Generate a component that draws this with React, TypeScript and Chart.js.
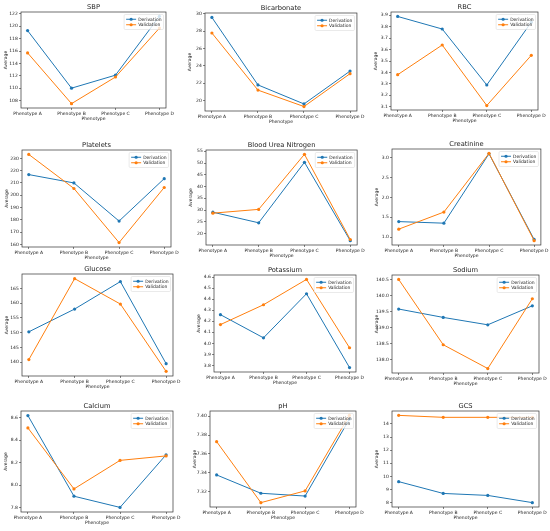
import React, { useEffect, useRef } from "react";
import { Chart, registerables } from "chart.js";

Chart.register(...registerables);

// ---------- data ----------
const phenotypes = ["Phenotype A", "Phenotype B", "Phenotype C", "Phenotype D"];
const seriesNames = ["Derivation", "Validation"];
const panelTitles = [
  "SBP", "Bicarbonate", "RBC",
  "Platelets", "Blood Urea Nitrogen", "Creatinine",
  "Glucose", "Potassium", "Sodium",
  "Calcium", "pH", "GCS",
];

const sbpDerivation = [119.3, 110.0, 112.1, 121.6];
const sbpValidation = [115.7, 107.5, 111.8, 119.7];
const bicarbonateDerivation = [29.6, 21.8, 19.6, 23.4];
const bicarbonateValidation = [27.8, 21.2, 19.3, 23.1];
const rbcDerivation = [3.89, 3.78, 3.29, 3.84];
const rbcValidation = [3.38, 3.64, 3.11, 3.55];
const plateletsDerivation = [216.8, 210.0, 179.0, 213.5];
const plateletsValidation = [233.2, 205.5, 161.5, 206.3];
const bunDerivation = [29.1, 24.6, 50.3, 17.0];
const bunValidation = [28.7, 30.3, 53.7, 17.5];
const creatinineDerivation = [1.39, 1.35, 3.10, 0.94];
const creatinineValidation = [1.20, 1.63, 3.11, 0.91];
const glucoseDerivation = [150.3, 158.0, 167.3, 139.5];
const glucoseValidation = [140.9, 168.3, 159.7, 136.9];
const potassiumDerivation = [4.26, 4.05, 4.45, 3.78];
const potassiumValidation = [4.17, 4.35, 4.58, 3.96];
const sodiumDerivation = [139.58, 139.32, 139.09, 139.68];
const sodiumValidation = [140.5, 138.47, 137.73, 139.9];
const calciumDerivation = [8.62, 7.90, 7.80, 8.27];
const calciumValidation = [8.51, 7.965, 8.22, 8.26];
const phDerivation = [7.3375, 7.318, 7.315, 7.397];
const phValidation = [7.373, 7.308, 7.3205, 7.401];
const gcsDerivation = [9.6, 8.7, 8.55, 8.0];
const gcsValidation = [14.65, 14.5, 14.5, 14.5];

const derivationSeries = [
  sbpDerivation, bicarbonateDerivation, rbcDerivation,
  plateletsDerivation, bunDerivation, creatinineDerivation,
  glucoseDerivation, potassiumDerivation, sodiumDerivation,
  calciumDerivation, phDerivation, gcsDerivation,
];
const validationSeries = [
  sbpValidation, bicarbonateValidation, rbcValidation,
  plateletsValidation, bunValidation, creatinineValidation,
  glucoseValidation, potassiumValidation, sodiumValidation,
  calciumValidation, phValidation, gcsValidation,
];

const yTickSteps = [2, 2, 0.1, 10, 5, 0.5, 5, 0.1, 0.5, 0.2, 0.02, 1];
const yTickDecimals = [0, 0, 1, 0, 0, 1, 0, 1, 1, 1, 2, 0];

// ---------- layout (not data) ----------
const COLS = [[0, 183], [183, 366], [366, 550]];
const ROWS = [[0, 130], [130, 262], [262, 396], [396, 531]];
const AREAS = [
  [21, 12, 166, 108], [205, 13, 359, 111], [391, 12, 538, 110],
  [22, 150, 171, 247], [206, 150, 364, 245], [392, 149, 545, 245],
  [22, 274, 173, 376], [214, 275, 356, 372], [392, 275, 539, 373],
  [21, 411, 173, 512], [210, 411, 356, 507], [392, 411, 539, 507],
];
const COLORS = ["#1f77b4", "#ff7f0e"];
const FONT = "DejaVu Sans";
const TEXT = "#222";
const YW = 18;
const XH = 14;

function Panel({ index }: { index: number }) {
  const ref = useRef<HTMLCanvasElement>(null);
  const col = index % 3;
  const row = Math.floor(index / 3);
  const [cl, cr] = COLS[col];
  const [ct, cb] = ROWS[row];

  useEffect(() => {
    const [l, t, r, b] = AREAS[index];
    const series = [derivationSeries[index], validationSeries[index]];
    const all = [...series[0], ...series[1]];
    const lo = Math.min(...all);
    const hi = Math.max(...all);
    const pad = (hi - lo) * 0.05;
    const step = yTickSteps[index];
    const dec = yTickDecimals[index];
    const title = panelTitles[index];

    const decorPlugin = {
      id: "decor" + index,
      afterDatasetsDraw(chart: any) {
        const ctx = chart.ctx;
        const a = chart.chartArea;
        ctx.save();
        // frame
        ctx.strokeStyle = "#333";
        ctx.lineWidth = 0.7;
        ctx.strokeRect(a.left, a.top, a.right - a.left, a.bottom - a.top);
        // legend
        const fs = 4.5;
        ctx.font = `${fs}px "${FONT}"`;
        const tw = Math.max(...seriesNames.map((n) => ctx.measureText(n).width));
        const p = 2, handle = 10, gap = 2, rowH = 5.5;
        const w = p + handle + gap + tw + p;
        const h = p * 2 + rowH * 2;
        const x0 = a.right - 2.5 - w;
        const y0 = a.top + 2.5;
        ctx.beginPath();
        if ((ctx as any).roundRect) (ctx as any).roundRect(x0, y0, w, h, 1.2);
        else ctx.rect(x0, y0, w, h);
        ctx.fillStyle = "rgba(255,255,255,0.8)";
        ctx.fill();
        ctx.strokeStyle = "#d4d4d4";
        ctx.lineWidth = 0.5;
        ctx.stroke();
        seriesNames.forEach((n, i) => {
          const cy = y0 + p + rowH * (i + 0.5);
          ctx.strokeStyle = COLORS[i];
          ctx.lineWidth = 1;
          ctx.beginPath();
          ctx.moveTo(x0 + p, cy);
          ctx.lineTo(x0 + p + handle, cy);
          ctx.stroke();
          ctx.fillStyle = COLORS[i];
          ctx.beginPath();
          ctx.arc(x0 + p + handle / 2, cy, 1.6, 0, Math.PI * 2);
          ctx.fill();
          ctx.fillStyle = TEXT;
          ctx.textAlign = "left";
          ctx.textBaseline = "middle";
          ctx.fillText(n, x0 + p + handle + gap, cy + 0.3);
        });
        // title
        ctx.font = `6.7px "${FONT}"`;
        ctx.fillStyle = TEXT;
        ctx.textAlign = "center";
        ctx.textBaseline = "alphabetic";
        ctx.fillText(title, (a.left + a.right) / 2, a.top - 3.2);
        ctx.restore();
      },
    };

    const tickFont = { family: FONT, size: 4.5 };
    const chart = new Chart(ref.current as HTMLCanvasElement, {
      type: "line",
      data: {
        datasets: series.map((s, i) => ({
          label: seriesNames[i],
          data: s.map((y, x) => ({ x, y })),
          borderColor: COLORS[i],
          backgroundColor: COLORS[i],
          borderWidth: 1,
          pointRadius: 1.6,
          pointBorderWidth: 0,
          pointHoverRadius: 0,
          order: i === 0 ? 1 : 0,
        })),
      },
      options: {
        animation: false,
        responsive: false,
        events: [],
        layout: {
          padding: {
            left: l - cl - YW,
            top: t - ct,
            right: cr - r,
            bottom: cb - b - XH,
          },
        },
        plugins: {
          legend: { display: false },
          title: { display: false },
          tooltip: { enabled: false },
        },
        scales: {
          x: {
            type: "linear",
            min: -0.15,
            max: 3.15,
            afterBuildTicks: (s: any) => {
              s.ticks = phenotypes.map((_, i) => ({ value: i }));
            },
            afterFit: (s: any) => {
              s.height = XH;
            },
            ticks: {
              callback: (v: any) => phenotypes[v as number],
              autoSkip: false,
              maxRotation: 0,
              font: tickFont,
              color: TEXT,
              padding: 1.2,
            },
            grid: {
              display: true,
              drawOnChartArea: false,
              drawTicks: true,
              tickLength: 2,
              color: "#333",
              lineWidth: 0.6,
            },
            border: { display: false },
            title: {
              display: true,
              text: "Phenotype",
              font: tickFont,
              color: TEXT,
              padding: { top: 0, bottom: 0.5 },
            },
          },
          y: {
            type: "linear",
            min: lo - pad,
            max: hi + pad,
            afterBuildTicks: (s: any) => {
              const ticks: any[] = [];
              let v = Math.ceil((s.min - 1e-9) / step) * step;
              while (v <= s.max + 1e-9) {
                ticks.push({ value: Number(v.toFixed(6)) });
                v += step;
              }
              s.ticks = ticks;
            },
            afterFit: (s: any) => {
              s.width = YW;
            },
            ticks: {
              callback: (v: any) => Number(v).toFixed(dec),
              font: tickFont,
              color: TEXT,
              padding: 1.2,
            },
            grid: {
              display: true,
              drawOnChartArea: false,
              drawTicks: true,
              tickLength: 2,
              color: "#333",
              lineWidth: 0.6,
            },
            border: { display: false },
            title: {
              display: true,
              text: "Average",
              font: tickFont,
              color: TEXT,
              padding: { top: 0, bottom: 0 },
            },
          },
        },
      } as any,
      plugins: [decorPlugin],
    });
    return () => chart.destroy();
  }, [index]);

  return (
    <canvas
      ref={ref}
      width={cr - cl}
      height={cb - ct}
      style={{
        position: "absolute",
        left: cl,
        top: ct,
        width: cr - cl,
        height: cb - ct,
      }}
    />
  );
}

export default function App() {
  return (
    <div
      style={{
        position: "absolute",
        left: 0,
        top: 0,
        width: 550,
        height: 531,
        background: "#fff",
        overflow: "hidden",
      }}
    >
      {panelTitles.map((_, i) => (
        <Panel key={i} index={i} />
      ))}
    </div>
  );
}
